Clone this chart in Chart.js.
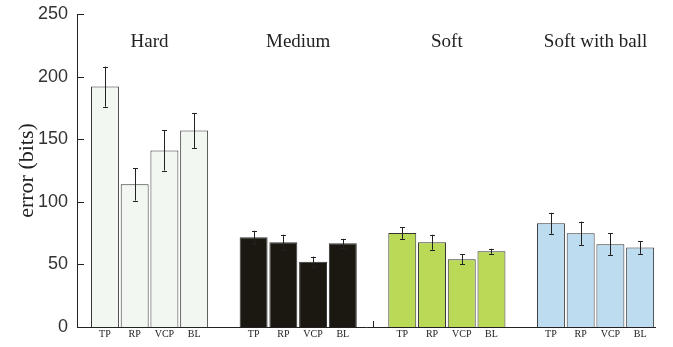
<!DOCTYPE html>
<html>
<head>
<meta charset="utf-8">
<script src="https://cdn.jsdelivr.net/npm/chart.js@4/dist/chart.umd.min.js"></script>
<style>
  html, body { margin: 0; padding: 0; background: #fff; }
  canvas { display: block; }
</style>
</head>
<body>
<canvas id="c" width="673" height="347"></canvas>
<script>
// ---- data ----
const categories = ['TP', 'RP', 'VCP', 'BL'];
const groups = ['Hard', 'Medium', 'Soft', 'Soft with ball'];
const hardValues   = [192, 114, 141, 157];
const hardErrors   = [16, 13, 16, 14];
const mediumValues = [71.7, 67.7, 52.2, 66.9];
const mediumErrors = [5.2, 6, 4, 3.5];
const softValues   = [75.1, 67.7, 54.1, 60.5];
const softErrors   = [4.7, 6, 4, 2];
const ballValues   = [82.8, 74.9, 66.1, 63.4];
const ballErrors   = [8.4, 9.3, 8.6, 5];
const gapValues    = [0, 0, 0];
const gapErrors    = [0, 4.8, 0];
const yTicks       = [0, 50, 100, 150, 200, 250];

const groupColors = ['#f2f7f1', '#1b1811', '#b9d957', '#bddcf0'];
const groupValues = [hardValues, mediumValues, softValues, ballValues];
const groupErrors = [hardErrors, mediumErrors, softErrors, ballErrors];

// build points: 5 slots per group, slot 4 is an (empty) gap
const points = [], colors = [], errs = [], tickLabels = {};
groupValues.forEach((vals, g) => {
  vals.forEach((v, i) => {
    const x = g * 5 + i;
    points.push({x: x, y: v});
    colors.push(groupColors[g]);
    errs.push(groupErrors[g][i]);
    tickLabels[x] = categories[i];
  });
  if (g < gapValues.length) {
    points.push({x: g * 5 + 4, y: gapValues[g]});
    colors.push('#222');
    errs.push(gapErrors[g]);
  }
});

const overlay = {
  id: 'overlay',
  afterDatasetsDraw(chart) {
    const ctx = chart.ctx;
    const xs = chart.scales.x, ys = chart.scales.y;
    ctx.save();
    // error bars
    ctx.strokeStyle = '#222';
    ctx.lineWidth = 1;
    points.forEach((p, k) => {
      const e = errs[k];
      if (!e) return;
      const px = Math.round(xs.getPixelForValue(p.x)) + 0.5;
      const top = ys.getPixelForValue(p.y + e);
      const bot = ys.getPixelForValue(Math.max(0, p.y - e));
      ctx.beginPath();
      ctx.moveTo(px, top); ctx.lineTo(px, bot);
      if (p.y > 0) {
        ctx.moveTo(px - 2.5, Math.round(top) + 0.5); ctx.lineTo(px + 2.5, Math.round(top) + 0.5);
        ctx.moveTo(px - 2.5, Math.round(bot) + 0.5); ctx.lineTo(px + 2.5, Math.round(bot) + 0.5);
      }
      ctx.stroke();
    });
    // inward y ticks
    const left = chart.chartArea.left;
    yTicks.forEach(t => {
      const py = Math.round(ys.getPixelForValue(t)) + 0.5;
      ctx.beginPath();
      ctx.moveTo(left, py); ctx.lineTo(left + 7, py);
      ctx.stroke();
    });
    // group titles
    ctx.fillStyle = '#222';
    ctx.font = '19px "Liberation Serif", serif';
    ctx.textAlign = 'center';
    ctx.textBaseline = 'middle';
    groups.forEach((name, g) => {
      const px = xs.getPixelForValue(g * 5 + 1.5);
      const py = ys.getPixelForValue(228);
      ctx.fillText(name, px, py);
    });
    ctx.restore();
  }
};

new Chart(document.getElementById('c'), {
  type: 'bar',
  data: {
    datasets: [{
      data: points,
      backgroundColor: colors,
      borderColor: '#333',
      borderWidth: 1,
      barPercentage: 0.94,
      categoryPercentage: 1.0
    }]
  },
  options: {
    responsive: false,
    animation: false,
    devicePixelRatio: 1,
    layout: { padding: { top: 14, right: 18, left: 0, bottom: 0 } },
    plugins: { legend: { display: false }, tooltip: { enabled: false } },
    scales: {
      x: {
        type: 'linear',
        offset: false,
        min: -0.94,
        max: 18.5,
        grid: { display: false, drawTicks: false, offset: false },
        border: { color: '#222', width: 1 },
        afterBuildTicks: (s) => { s.ticks = Object.keys(tickLabels).map(k => ({value: +k})); },
        afterFit: (s) => { s.height = 20; s.paddingLeft = 0; s.paddingRight = 0; },
        ticks: {
          autoSkip: false,
          maxRotation: 0,
          padding: 1,
          color: '#222',
          font: { family: '"Liberation Serif", serif', size: 10 },
          callback: (v) => tickLabels[v] || ''
        }
      },
      y: {
        min: 0,
        max: 250,
        grid: { display: false, drawTicks: false },
        border: { color: '#222', width: 1 },
        afterBuildTicks: (s) => { s.ticks = yTicks.map(v => ({value: v})); },
        afterFit: (s) => { s.width = 77; s.paddingTop = 0; s.paddingBottom = 0; },
        ticks: {
          padding: 9,
          color: '#333',
          font: { family: '"Liberation Sans", sans-serif', size: 18 }
        },
        title: {
          display: true,
          text: 'error (bits)',
          color: '#222',
          padding: { top: 14, bottom: 0 },
          font: { family: '"Liberation Serif", serif', size: 22 }
        }
      }
    }
  },
  plugins: [overlay]
});
</script>
</body>
</html>
